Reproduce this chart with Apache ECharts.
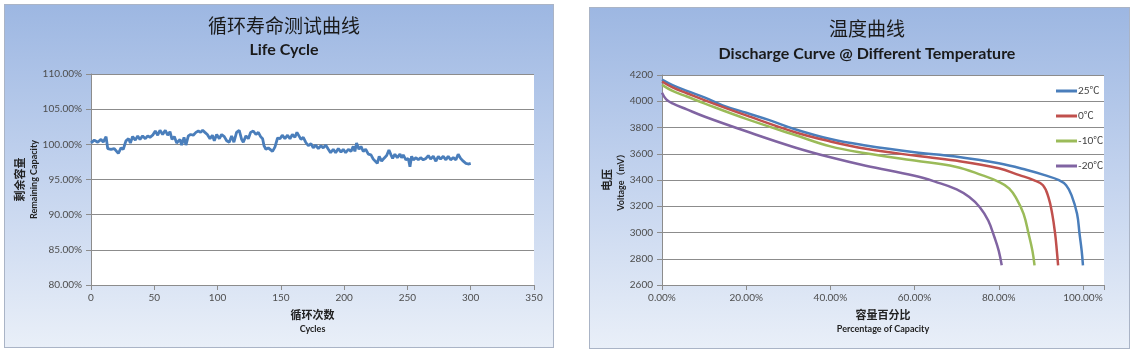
<!DOCTYPE html>
<html>
<head>
<meta charset="utf-8">
<script src="https://cdn.jsdelivr.net/npm/echarts@6/dist/echarts.min.js"></script>
<style>
  html, body { margin: 0; padding: 0; background: #fff; }
  #wrap { position: relative; width: 1140px; height: 354px; overflow: hidden; }
  .panel {
    position: absolute;
    background: linear-gradient(to bottom, #9db7e2 0%, #c3d3ee 50%, #e9eff8 100%);
    border: 1px solid #aab4c6;
    box-sizing: border-box;
  }
  #chart { position: absolute; left: 0; top: 0; width: 1140px; height: 354px; }
</style>
</head>
<body>
<div id="wrap">
  <div class="panel" style="left:4px;top:4px;width:550px;height:344px;"></div>
  <div class="panel" style="left:589px;top:7px;width:541px;height:342px;"></div>
  <div id="chart"></div>
</div>
<script>
// life cycle: cycle number vs remaining capacity (%)
const cycles = [0, 2.6, 5.3, 7.9, 9.7, 11.9, 13.2, 15.8, 18.4, 19.7, 21.6, 23.7, 25.5, 27.6, 29.7, 31.1, 32.9, 35.0, 36.9, 38.7,
  40.8, 42.9, 44.8, 46.6, 48.7, 50.8, 52.7, 54.5, 56.6, 58.7, 60.6, 62.4, 64.0, 65.8, 67.7, 70.3, 71.6, 73.5, 75.0, 76.9,
  78.7, 80.8, 82.9, 84.8, 86.6, 88.2, 90.0, 91.9, 94.0, 95.9, 97.4, 99.3, 101.4, 103.2, 105.3, 107.2, 109.2, 111.1, 112.9, 115.0,
  117.1, 119.0, 120.3, 122.4, 124.3, 126.1, 128.2, 130.3, 132.2, 134.0, 135.6, 136.7, 138.2, 140.1, 141.4, 143.4, 145.3, 147.4, 149.3, 151.1,
  153.2, 155.3, 157.2, 159.1, 161.1, 162.7, 164.3, 165.9, 167.7, 169.6, 171.7, 173.8, 175.6, 177.5, 179.6, 181.7, 183.5, 185.4, 187.5, 189.3,
  191.4, 193.3, 195.4, 197.5, 199.3, 201.2, 203.3, 205.4, 207.2, 208.5, 209.8, 211.7, 213.3, 215.1, 217.0, 219.1, 221.2, 223.0, 224.4, 226.2,
  227.7, 229.6, 231.4, 233.6, 235.4, 237.0, 238.3, 240.1, 242.0, 244.1, 245.4, 246.7, 248.8, 250.7, 252.0, 253.3, 254.7, 256.8, 258.6, 260.4,
  262.5, 264.6, 266.5, 268.3, 270.4, 272.5, 274.4, 276.2, 278.3, 280.4, 282.2, 284.1, 286.2, 288.3, 290.1, 292.0, 294.1, 296.2, 298.0, 300.0];
const capacity = [100.2, 100.6, 100.3, 100.7, 100.3, 101.1, 99.4, 99.3, 99.4, 99.2, 98.7, 99.5, 99.3, 100.5, 100.8, 100.2, 101.1, 100.6, 101.2, 100.7,
  101.2, 100.8, 101.2, 101.0, 101.3, 101.9, 101.3, 102.0, 101.4, 102.0, 101.3, 101.8, 100.7, 101.1, 100.2, 100.7, 99.9, 101.0, 99.9, 101.2,
  101.4, 101.3, 101.7, 101.9, 101.7, 102.0, 101.7, 101.4, 100.8, 101.3, 100.5, 101.4, 100.8, 101.4, 101.1, 100.5, 100.3, 101.2, 100.3, 101.7,
  102.0, 100.7, 100.3, 101.2, 100.8, 101.7, 101.9, 101.4, 101.7, 101.1, 100.8, 99.8, 99.3, 99.5, 99.3, 99.0, 99.6, 100.9, 100.8, 101.3,
  100.8, 101.3, 100.8, 101.4, 101.0, 101.7, 101.2, 100.7, 101.0, 100.3, 99.8, 100.1, 99.5, 99.9, 99.4, 99.8, 99.5, 99.9, 99.3, 98.8,
  99.3, 98.8, 99.4, 98.9, 99.3, 98.8, 99.3, 99.0, 99.7, 99.0, 100.2, 99.3, 99.7, 99.0, 99.3, 98.6, 98.5, 97.9, 97.7, 97.3,
  98.3, 97.6, 98.0, 98.4, 99.2, 98.5, 98.0, 98.6, 98.1, 98.6, 98.1, 98.5, 97.8, 98.0, 96.8, 98.3, 97.8, 98.1, 97.8, 98.1,
  97.8, 98.0, 98.4, 97.9, 98.3, 97.6, 98.3, 97.9, 98.3, 97.8, 98.3, 97.8, 98.1, 97.8, 98.6, 98.0, 97.6, 97.3, 97.2, 97.3];

// discharge curves: capacity (%) vs voltage (mV)
const cap25 = [0, 2.5, 5.9, 10.2, 14.4, 20, 25.5, 31.4, 40, 48.4, 60, 69.7, 80, 86.7, 90.9, 94.3, 96, 97.3, 98.6, 99.2, 99.7, 100];
const volt25 = [4165, 4123, 4079, 4028, 3969, 3912, 3856, 3789, 3712, 3663, 3612, 3579, 3527, 3476, 3437, 3399, 3360, 3283, 3142, 2988, 2860, 2750];
const cap0 = [0, 2.5, 5.9, 10.2, 20, 31.4, 40, 48.4, 60, 69.7, 80, 84.9, 88.3, 90.5, 91.8, 92.7, 93.4, 93.8, 94.1];
const volt0 = [4150, 4105, 4061, 4007, 3892, 3766, 3694, 3638, 3586, 3548, 3489, 3437, 3399, 3360, 3270, 3142, 2988, 2860, 2750];
const capM10 = [0, 2.5, 5.9, 10.2, 20, 31.4, 40, 48.4, 60, 69.7, 76, 80, 82.5, 84.2, 85.9, 87.1, 88, 88.5];
const voltM10 = [4125, 4079, 4036, 3982, 3866, 3745, 3656, 3604, 3548, 3501, 3437, 3386, 3335, 3258, 3142, 2988, 2860, 2750];
const capM20 = [0, 1, 2.5, 5.9, 10.2, 20, 31.4, 40, 48.4, 60, 65, 70, 73, 75.5, 77.5, 79, 80, 80.7];
const voltM20 = [4065, 4015, 3984, 3938, 3882, 3771, 3650, 3573, 3509, 3432, 3386, 3329, 3270, 3193, 3091, 2962, 2860, 2750];

const tempNames = ["25℃", "0℃", "-10℃", "-20℃"];
const tempColors = ["#4a7ebb", "#c0504d", "#9bbb59", "#8064a2"];

const FONT = 'Lato, "Noto Sans CJK SC", sans-serif';
const zip = (xs, ys) => xs.map((x, i) => [x, ys[i]]);

const labelStyle = { fontFamily: FONT, fontSize: 10, color: "#4d4d4d" };
const gridLine = { lineStyle: { color: "#8c8c8c", width: 1 } };
const axisLine = { show: true, lineStyle: { color: "#8c8c8c" } };
const axisTick = { show: true, length: 5, lineStyle: { color: "#8c8c8c" } };

function nameRich() {
  return {
    fontFamily: FONT,
    rich: {
      a: { fontFamily: FONT, fontSize: 11, fontWeight: "bold", color: "#222", lineHeight: 15 },
      b: { fontFamily: FONT, fontSize: 9, fontWeight: "bold", color: "#222", lineHeight: 12 }
    }
  };
}

const option = {
  animation: false,
  title: [
    {
      text: "循环寿命测试曲线",
      subtext: "Life Cycle",
      left: 279, top: 12, textAlign: "center", itemGap: 6,
      textStyle: { fontFamily: FONT, fontSize: 19, fontWeight: "normal", color: "#1a1a1a" },
      subtextStyle: { fontFamily: FONT, fontSize: 16, fontWeight: "bold", color: "#1a1a1a" }
    },
    {
      text: "温度曲线",
      subtext: "Discharge Curve @ Different Temperature",
      left: 862, top: 15, textAlign: "center", itemGap: 7,
      textStyle: { fontFamily: FONT, fontSize: 19, fontWeight: "normal", color: "#1a1a1a" },
      subtextStyle: { fontFamily: FONT, fontSize: 16, fontWeight: "bold", color: "#1a1a1a" }
    }
  ],
  legend: {
    data: tempNames,
    orient: "vertical",
    left: 1051, top: 81,
    icon: "rect",
    itemWidth: 21, itemHeight: 3, itemGap: 15,
    textStyle: { fontFamily: FONT, fontSize: 10, color: "#404040", padding: [0, 0, 0, -4] }
  },
  grid: [
    { left: 91, top: 74, right: 606, bottom: 69, show: true, backgroundColor: "#fff", borderWidth: 0 },
    { left: 662, top: 75, right: 36, bottom: 69, show: true, backgroundColor: "#fff", borderWidth: 0 }
  ],
  xAxis: [
    {
      gridIndex: 0, type: "value", min: 0, max: 350, interval: 50,
      axisLine, axisTick, splitLine: { show: false },
      axisLabel: Object.assign({ margin: 8 }, labelStyle),
      name: "{a|循环次数}\n{b|Cycles}", nameLocation: "middle", nameGap: 23,
      nameTextStyle: nameRich()
    },
    {
      gridIndex: 1, type: "value", min: 0, max: 105, interval: 20,
      axisLine, axisTick, splitLine: { show: false },
      axisLabel: Object.assign({
        margin: 8,
        formatter: v => (Math.abs(v % 20) < 1e-6 ? v.toFixed(2) + "%" : "")
      }, labelStyle),
      name: "{a|容量百分比}\n{b|Percentage of Capacity}", nameLocation: "middle", nameGap: 23,
      nameTextStyle: nameRich()
    }
  ],
  yAxis: [
    {
      gridIndex: 0, type: "value", min: 80, max: 110, interval: 5,
      axisLine, axisTick, splitLine: gridLine,
      axisLabel: Object.assign({ margin: 9, formatter: v => v.toFixed(2) + "%" }, labelStyle),
      name: "{a|剩余容量}\n{b|Remaining Capacity}", nameLocation: "middle", nameGap: 47, nameRotate: 90,
      nameTextStyle: nameRich()
    },
    {
      gridIndex: 1, type: "value", min: 2600, max: 4200, interval: 200,
      axisLine, axisTick, splitLine: gridLine,
      axisLabel: Object.assign({ margin: 9, formatter: v => String(v) }, labelStyle),
      name: "{a|电压}\n{b|Voltage（mV）}", nameLocation: "middle", nameGap: 34, nameRotate: 90,
      nameTextStyle: nameRich()
    }
  ],
  series: [
    {
      type: "line", xAxisIndex: 0, yAxisIndex: 0, symbol: "none",
      data: zip(cycles, capacity),
      lineStyle: { color: "#4a7ebb", width: 2.8 }
    },
    ...[[cap25, volt25], [cap0, volt0], [capM10, voltM10], [capM20, voltM20]].map((d, i) => ({
      type: "line", name: tempNames[i], xAxisIndex: 1, yAxisIndex: 1, symbol: "none",
      smooth: 0.4,
      data: zip(d[0], d[1]),
      color: tempColors[i],
      lineStyle: { color: tempColors[i], width: 2.5 }
    }))
  ]
};

const myChart = echarts.init(document.getElementById("chart"));
myChart.setOption(option);
</script>
</body>
</html>
